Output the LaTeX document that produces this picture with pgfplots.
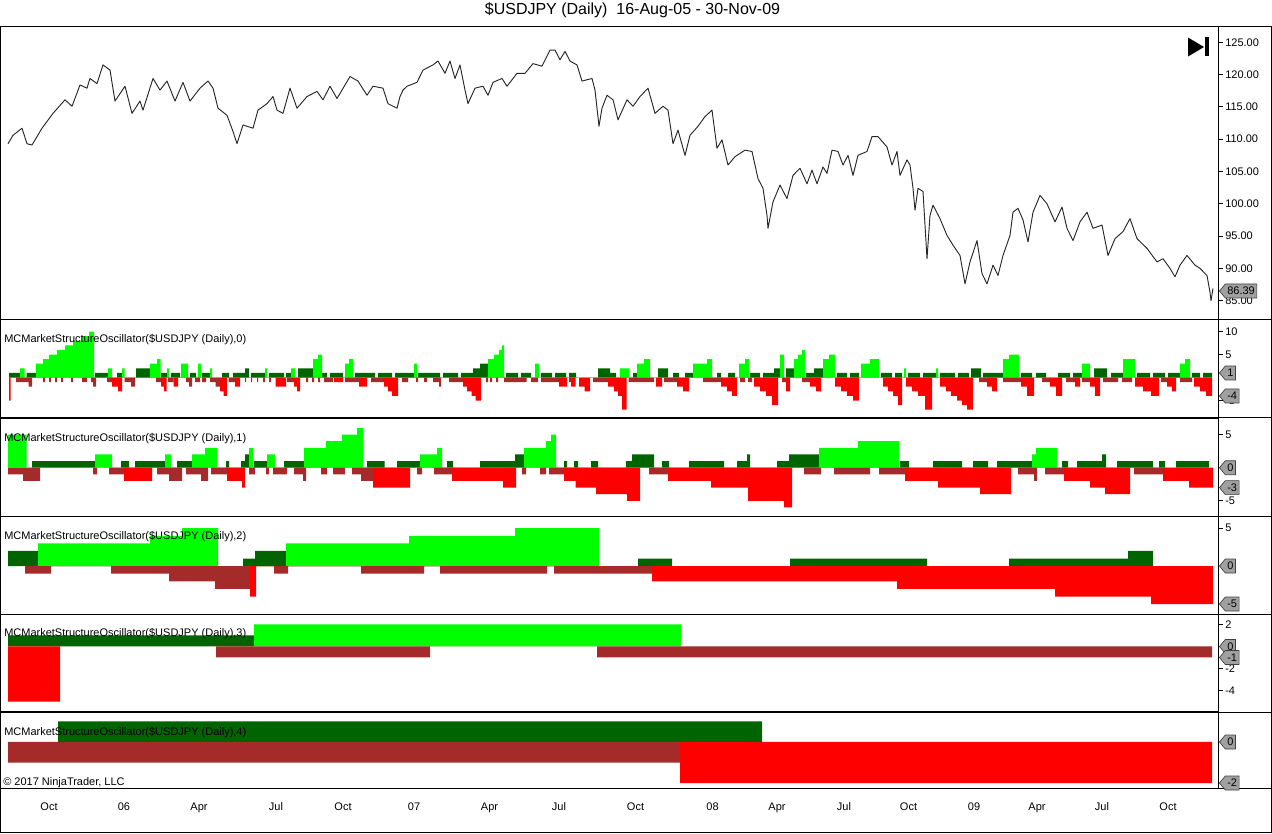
\documentclass[border=0pt]{standalone}
\usepackage{pgfplots}
\pgfplotsset{compat=1.18}
\usepackage{fontspec}
\setmainfont{Liberation Sans}
\usetikzlibrary{shapes.symbols}
\definecolor{bg}{RGB}{0,255,0}
\definecolor{dk}{RGB}{0,100,0}
\definecolor{rd}{RGB}{255,0,0}
\definecolor{br}{RGB}{165,42,42}
\definecolor{lblgray}{RGB}{160,160,160}
\newcommand{\sm}{\fontsize{8.25}{10}\selectfont}
\pgfplotsset{
  panel/.style={
    scale only axis, width=913.5pt,
    xmin=0, xmax=1218,
    anchor=north west,
    axis line style={black, line width=0.75pt},
    xtick=\empty,
    ytick pos=right, yticklabel pos=right,
    tick align=outside, major tick length=3.75pt,
    ytick style={black, line width=0.6pt},
    yticklabel style={font=\sm, inner xsep=1.5pt},
    /pgf/number format/assume math mode=true,
  },
  bar/.style={const plot, draw=none, fill=#1},
}
\tikzset{arr/.style={signal, signal to=west, signal pointer angle=100, fill=lblgray, draw=black!75, line width=0.5pt, font=\sm, inner xsep=1.5pt, inner ysep=1pt, minimum height=10.5pt, anchor=west, text=black}}
\begin{document}
\begin{tikzpicture}
\path[use as bounding box] (0,0) rectangle (954pt,-625.5pt);
% ---------------- price panel
\begin{axis}[panel, at={(0pt,-20.25pt)}, height=219.75pt, ymin=82.01, ymax=127.37,
  ytick={85,90,...,125},
  yticklabel style={/pgf/number format/.cd, fixed, fixed zerofill, precision=2, 1000 sep={}}]
\addplot[black!85, line width=0.7pt, line join=round] coordinates {
(8,109.3)(13,110.6)(22,111.7)(27,109.3)(32,109.1)(42,111.7)(53,114.0)(65,116.1)(72,115.1)(80,118.4)(87,117.9)(90,119.4)(97,118.6)(103,121.5)(110,120.7)(115,115.9)(125,118.2)(132,114.0)(140,115.9)(143,114.5)(153,119.4)(160,117.6)(167,119.0)(175,115.9)(183,118.8)(190,115.9)(200,117.9)(208,119.0)(213,117.9)(218,114.8)(227,113.7)(233,111.2)(237,109.3)(243,112.2)(253,111.7)(258,114.5)(267,115.5)(273,116.6)(277,114.5)(283,114.0)(290,117.9)(297,114.8)(307,116.6)(317,117.4)(323,116.1)(330,118.2)(337,116.3)(350,119.7)(358,119.0)(367,116.8)(373,118.2)(383,117.9)(388,115.5)(397,114.8)(400,116.6)(403,117.6)(407,118.2)(417,118.8)(423,120.7)(433,121.5)(438,122.1)(445,120.2)(450,122.1)(455,119.4)(460,121.5)(465,117.6)(468,115.5)(475,117.9)(483,118.2)(488,116.8)(493,118.8)(502,119.4)(507,118.2)(517,120.2)(525,120.2)(533,121.7)(542,121.3)(550,123.8)(555,123.8)(560,122.3)(565,123.6)(570,122.1)(577,121.5)(582,119.0)(592,119.4)(595,117.6)(599,112.0)(602,114.8)(607,116.8)(613,116.1)(618,113.0)(627,116.1)(633,115.1)(640,116.6)(648,117.9)(655,114.0)(663,115.1)(668,114.5)(673,109.3)(678,111.4)(685,107.5)(690,110.6)(698,112.0)(705,113.5)(712,114.5)(717,108.6)(722,109.9)(728,106.0)(735,107.3)(745,108.3)(752,108.1)(758,103.9)(763,102.4)(767,98.2)(768,96.2)(773,100.3)(780,102.9)(787,100.8)(793,104.4)(800,105.5)(807,103.1)(812,105.2)(817,103.1)(823,105.7)(827,104.7)(832,108.3)(838,108.1)(843,106.0)(848,107.5)(853,104.4)(858,107.5)(867,108.1)(872,110.4)(878,110.4)(887,108.8)(892,106.0)(897,108.1)(900,104.4)(907,106.8)(910,106.0)(913,102.4)(915,99.0)(918,102.4)(923,101.9)(927,91.5)(930,98.2)(933,99.8)(940,97.7)(947,95.1)(953,93.6)(960,92.0)(965,87.6)(970,91.0)(977,94.3)(982,89.2)(987,87.6)(993,90.5)(998,88.9)(1003,92.0)(1010,95.1)(1013,98.7)(1018,99.3)(1023,97.5)(1028,94.1)(1033,98.7)(1040,101.3)(1047,100.0)(1055,97.2)(1062,99.5)(1067,96.2)(1073,94.3)(1080,97.2)(1087,98.7)(1093,96.2)(1102,96.7)(1108,92.0)(1115,94.6)(1123,95.7)(1130,97.7)(1137,94.6)(1147,93.1)(1157,91.0)(1163,91.5)(1170,90.0)(1175,88.7)(1180,90.5)(1187,92.0)(1195,90.5)(1200,90.0)(1207,88.9)(1210,86.3)(1211,85.0)(1213,86.9)
};
\end{axis}
% ---------------- panel 0
\begin{axis}[panel, at={(0pt,-240pt)}, height=73.5pt, ymin=-8.8, ymax=12.5, ytick={-5,5,10}]
\addplot[bar=dk] coordinates {
(9,1)(20,0)(26.5,1)(36,0)(95,1)(108,0)(117,1)(122,0)(136,2)(150,0)(161,1)(167,0)(171,1)(180,0)(190,1)(196,0)(202,1)(210,0)(222,1)(229,0)(233,1)(245,0)(245,2)(249,0)(251,1)(265,0)(269,1)(284,0)(286,1)(291,0)(298,2)(313,0)(322,1)(327,0)(330,1)(343,0)(355,1)(375,0)(378,1)(392,0)(395,1)(414,0)(418,1)(440,0)(443,1)(458,0)(461,1)(473,0)(473,2)(480,0)(480,3)(488,0)(506,1)(518,0)(521,1)(531,0)(541,1)(552,0)(555,1)(566,0)(569,1)(576,0)(598,2)(610,0)(610,1)(616,0)(633,1)(637,0)(658,2)(668,0)(673,1)(679,0)(685,1)(693,0)(717,1)(721,0)(728,1)(735,0)(750,1)(760,0)(763,1)(774,0)(774,2)(780,0)(786,2)(794,0)(806,1)(814,0)(814,2)(823,0)(837,1)(847,0)(850,1)(859,0)(881,1)(892,0)(895,1)(902,0)(908,1)(920,0)(923,1)(936,0)(940,1)(955,0)(958,1)(969,0)(971,2)(981,0)(983,1)(1003,0)(1021,1)(1032,0)(1036,1)(1046,0)(1058,1)(1070,0)(1073,1)(1082,0)(1094,2)(1107,0)(1111,1)(1123,0)(1137,1)(1150,0)(1153,1)(1165,0)(1168,1)(1180,0)(1192,1)(1200,0)(1203,1)(1212,0)
} \closedcycle;
\addplot[bar=bg] coordinates {
(20,2)(24.5,0)(36,3)(43,4)(49,5)(57,6)(65,7)(73,8)(82,9)(89,10)(94,0)(108,2)(112,0)(122,2)(124.5,0)(150,3)(157,4)(160.5,0)(167,2)(169,0)(181,3)(188,0)(198,3)(201,0)(210,2)(212,0)(265,2)(267,0)(291,2)(295,0)(313,4)(318,5)(322,0)(345,3)(349,4)(353,0)(414,3)(417,0)(488,4)(494,5)(499,6)(502,7)(504,0)(535,3)(539,0)(620,2)(629,0)(637,3)(644,4)(650,0)(693,3)(707,4)(712,0)(739,3)(745,4)(749,0)(780,5)(784,0)(794,4)(798,5)(802,6)(805,0)(823,4)(829,5)(835,0)(861,3)(870,4)(879,0)(904,2)(906,0)(936,2)(938,0)(1003,4)(1009,5)(1019,0)(1082,3)(1090,0)(1123,4)(1135,0)(1180,3)(1185,4)(1190,0)
} \closedcycle;
\addplot[bar=br] coordinates {
(16,-1)(28.5,-2)(32,0)(43,-1)(45,0)(49,-1)(51,0)(55,-1)(57,0)(61,-1)(63,0)(71,-1)(73,0)(82,-1)(87,0)(91,-1)(93,-2)(96,0)(107,-1)(112,0)(124.5,-1)(131,-2)(135,0)(156,-1)(161,0)(168,-1)(173.5,0)(186,-1)(189,-2)(192,0)(195,-1)(200,0)(202,-1)(206,0)(210,-1)(215.5,-2)(220,0)(228.5,-1)(235,0)(245,-1)(246,0)(251,-1)(252,0)(257,-1)(258,0)(263,-1)(265,0)(269,-1)(271,0)(287,-1)(294,0)(306,-1)(308,0)(312,-1)(314,0)(318,-1)(320,0)(324,-1)(333,0)(345,-1)(359,0)(371,-1)(384,0)(402,-1)(408,0)(416,-1)(418,0)(424,-1)(427,0)(433,-1)(439,-2)(441,0)(449,-1)(463,0)(486,-1)(488,0)(490,-1)(492,0)(496,-1)(498,0)(504,-1)(526.5,0)(531,-1)(538,0)(541,-1)(559,0)(569,-1)(571,0)(593,-1)(608,0)(628.5,-1)(654,0)(664,-1)(677,0)(703,-1)(721,0)(740,-1)(745,0)(748,-1)(752,0)(782,-1)(786,0)(802,-1)(810,0)(979,-1)(987,0)(1003,-1)(1021,0)(1042,-1)(1050,0)(1066,-1)(1075,0)(1082,-1)(1090,0)(1103,-1)(1118,0)(1122,-1)(1132,0)(1161,-1)(1167,0)(1180,-1)(1192,0)
} \closedcycle;
\addplot[bar=rd] coordinates {
(9,-5)(10.5,0)(112,-2)(118,-3)(122,0)(161,-2)(164,-3)(166.5,0)(173.5,-2)(178,0)(220,-3)(223.5,-4)(227,0)(235,-2)(240,0)(275.5,-2)(286,0)(294,-2)(297,-3)(300,0)(334,-1)(343,0)(359,-2)(367,0)(384,-2)(388,-3)(392,-4)(398,0)(463,-2)(467,-3)(471.5,-4)(475.5,-5)(481,0)(559,-2)(567,0)(571,-2)(575.5,0)(579,-2)(584.5,-3)(590,0)(608,-2)(614,-3)(618,-4)(622,-7)(626.5,0)(656,-2)(662,0)(677,-2)(683,-3)(689,0)(721,-2)(727,-3)(732,-4)(737,0)(754,-2)(760,-3)(766,-4)(772,-6)(778,0)(786,-3)(790,0)(810,-2)(816,-3)(821,0)(835,-2)(841,-3)(847,-4)(853,-5)(859,0)(883,-2)(888,-3)(893,-4)(898,-6)(902,0)(906,-2)(912,-3)(918,-4)(925,-7)(932,0)(940,-2)(946,-3)(951,-4)(957,-5)(962,-6)(967,-7)(973,0)(987,-2)(992,-3)(997,0)(1021,-2)(1027,-4)(1034,0)(1050,-2)(1056,-4)(1062,0)(1075,-2)(1080,0)(1090,-2)(1095,-4)(1100,0)(1135,-2)(1143,-3)(1151,-4)(1159,0)(1167,-2)(1172,-3)(1176,0)(1194,-2)(1200,-3)(1206,-4)(1212,0)
} \closedcycle;
\end{axis}
% ---------------- panel 1
\begin{axis}[panel, at={(0pt,-313.5pt)}, height=73.5pt, ymin=-7.3, ymax=7.5, ytick={-5,5}]
\addplot[bar=dk] coordinates {
(32,1)(95,0)(121,1)(129,0)(135,1)(165,0)(177,1)(192,0)(226,1)(229,0)(241,1)(245,2)(249,0)(254,1)(267,0)(284,1)(304,0)(367,1)(384.5,0)(397,1)(420,0)(447,1)(453,0)(480,1)(515,2)(524,0)(564,1)(567,0)(574,1)(578,0)(591,1)(598,0)(626,1)(632,2)(654,0)(662,1)(669,0)(689,1)(724,0)(737,1)(747,2)(750,0)(777,1)(789,2)(819,0)(900,1)(909,0)(933,1)(962,0)(973,1)(988,0)(997,1)(1032,0)(1062,1)(1068,0)(1077,1)(1102,2)(1106,0)(1117,1)(1153,0)(1159,1)(1165,0)(1176,1)(1209,0)
} \closedcycle;
\addplot[bar=bg] coordinates {
(8,5)(26.5,0)(95,2)(112,0)(165,2)(171,0)(192,2)(205,3)(217,0)(249,3)(253,0)(267,2)(275,0)(304,3)(326,4)(342,5)(357,6)(363,0)(420,2)(437,3)(442,0)(524,3)(546,4)(551,5)(556,0)(819,3)(858,4)(899,0)(1032,2)(1036,3)(1057,0)
} \closedcycle;
\addplot[bar=br] coordinates {
(8,-1)(23,-2)(40,0)(93,-1)(97,0)(109,-1)(124,0)(157,-1)(169,-2)(182,0)(186,-1)(201,-2)(208,0)(211,-1)(227,0)(249,-1)(255,0)(266,-1)(269,0)(273,-1)(287,0)(294,-1)(303,-2)(306,0)(321,-1)(327,0)(333,-1)(345,0)(352,-1)(361,-2)(373,0)(417,-1)(422,0)(434,-1)(452,0)(522,-1)(526,0)(540,-1)(546,0)(549,-1)(564,0)(649,-1)(668,0)(804,-1)(821,0)(834,-1)(870,0)(879,-1)(905,0)(1018,-1)(1034,-2)(1037,0)(1045,-1)(1064,0)(1134,-1)(1163,0)
} \closedcycle;
\addplot[bar=rd] coordinates {
(124,-2)(152,0)(227,-2)(242,-3)(245,0)(373,-3)(410,0)(452,-2)(503,-3)(516,0)(564,-2)(575.5,-3)(596,-4)(627,-5)(640,0)(668,-2)(711,-3)(748,-5)(784,-6)(792,0)(905,-2)(938,-3)(980,-4)(1011,0)(1064,-2)(1090,-3)(1105,-4)(1130,0)(1163,-2)(1189,-3)(1213,0)
} \closedcycle;
\end{axis}
% ---------------- panel 2
\begin{axis}[panel, at={(0pt,-387pt)}, height=73.5pt, ymin=-6.3, ymax=6.6, ytick={5}]
\addplot[bar=dk] coordinates {(8,2)(38,0)(243,1)(255,2)(286,0)(638,1)(672,0)(790,1)(927,0)(1009,1)(1128,2)(1153,0)} \closedcycle;
\addplot[bar=bg] coordinates {(38,3)(150,4)(182,5)(218,0)(286,3)(409,4)(515,5)(599,0)} \closedcycle;
\addplot[bar=br] coordinates {(25,-1)(51,0)(111,-1)(169,-2)(215,-3)(250,0)(274,-1)(288,0)(361,-1)(424,0)(440,-1)(547,0)(554,-1)(652,0)} \closedcycle;
\addplot[bar=rd] coordinates {(250,-4)(256,0)(652,-2)(897,-3)(1055,-4)(1151,-5)(1213,0)} \closedcycle;
\end{axis}
% ---------------- panel 3
\begin{axis}[panel, at={(0pt,-460.5pt)}, height=73.5pt, ymin=-5.95, ymax=2.95, ytick={-4,-2,2}]
\addplot[bar=dk] coordinates {(8,1)(254,0)} \closedcycle;
\addplot[bar=bg] coordinates {(254,2)(681,0)} \closedcycle;
\addplot[bar=br] coordinates {(216,-1)(430,0)(597,-1)(1212,0)} \closedcycle;
\addplot[bar=rd] coordinates {(8,-5)(60,0)} \closedcycle;
\end{axis}
% ---------------- panel 4
\begin{axis}[panel, at={(0pt,-534pt)}, height=57pt, ymin=-2.24, ymax=1.46, ytick=\empty,
  xtick={49,124,199,276,343,414,489.5,559,635.5,712.5,777,844,908.5,974,1037,1102,1168},
  xticklabels={Oct,06,Apr,Jul,Oct,07,Apr,Jul,Oct,08,Apr,Jul,Oct,09,Apr,Jul,Oct},
  xtick style={draw=none}, xticklabel style={font=\sm, anchor=base, yshift=-12.75pt}]
\addplot[bar=dk] coordinates {(58,1)(762,0)} \closedcycle;
\addplot[bar=br] coordinates {(8,-1)(680,0)} \closedcycle;
\addplot[bar=rd] coordinates {(680,-2)(1212,0)} \closedcycle;
\end{axis}
% ---------------- decorations
\begin{scope}[x=0.75pt, y=-0.75pt]
  \foreach \yy in {27,320,418,516,614,712,788} {\draw[line width=0.75pt] (1218,\yy) -- (1272,\yy);}
  \draw[line width=0.75pt] (0,788) -- (0,832) -- (1271.5,832) -- (1271.5,27);
  \node[font=\fontsize{12}{14}\selectfont, anchor=base] at (632.5,14.5) {\$USDJPY (Daily)\ \ 16-Aug-05 - 30-Nov-09};
  \fill (1188,37.5) -- (1204,47) -- (1188,56.5) -- cycle;
  \fill (1205,37.5) rectangle (1209,56.5);
  \node[font=\sm, anchor=base west, inner sep=0pt] at (4,343) {MCMarketStructureOscillator(\$USDJPY (Daily),0)};
  \node[font=\sm, anchor=base west, inner sep=0pt] at (4,441) {MCMarketStructureOscillator(\$USDJPY (Daily),1)};
  \node[font=\sm, anchor=base west, inner sep=0pt] at (4,539) {MCMarketStructureOscillator(\$USDJPY (Daily),2)};
  \node[font=\sm, anchor=base west, inner sep=0pt] at (4,636) {MCMarketStructureOscillator(\$USDJPY (Daily),3)};
  \node[font=\sm, anchor=base west, inner sep=0pt] at (4,735) {MCMarketStructureOscillator(\$USDJPY (Daily),4)};
  \node[font=\sm, anchor=base west, inner sep=0pt] at (3,785) {\textcopyright{} 2017 NinjaTrader, LLC};
  \node[arr] at (1219,291) {86.39};
  \node[arr] at (1219,373) {1};
  \node[arr] at (1219,396) {-4};
  \node[arr] at (1219,467.7) {0};
  \node[arr] at (1219,487.6) {-3};
  \node[arr] at (1219,566) {0};
  \node[arr] at (1219,604) {-5};
  \node[arr] at (1219,646.5) {0};
  \node[arr] at (1219,657.5) {-1};
  \node[arr] at (1219,742) {0};
  \node[arr] at (1219,783) {-2};
\end{scope}
\end{tikzpicture}
\end{document}
